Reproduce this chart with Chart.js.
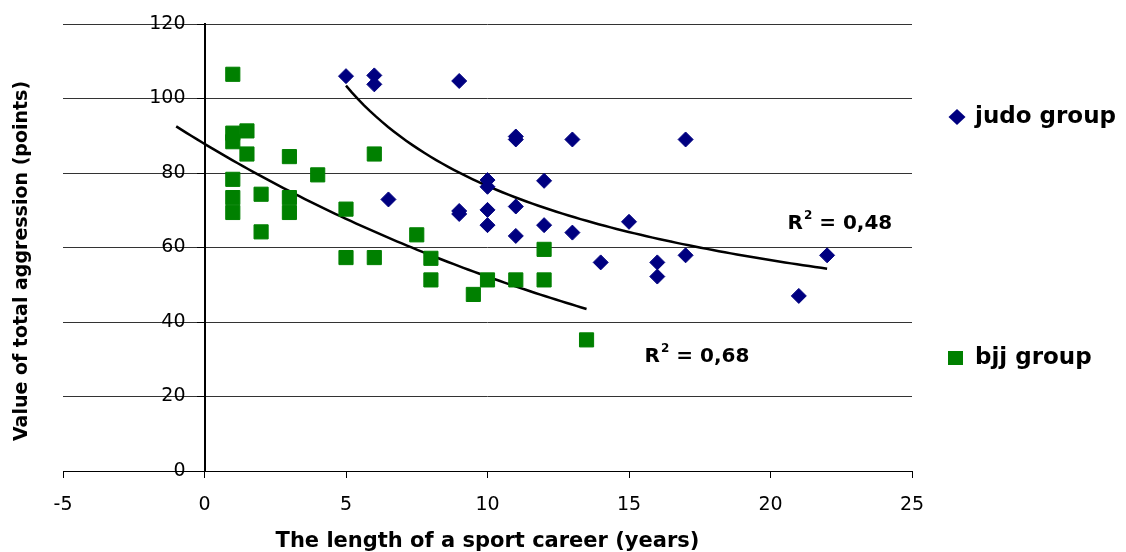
<!DOCTYPE html>
<html>
<head>
<meta charset="utf-8">
<script src="https://cdn.jsdelivr.net/npm/chart.js@4.4.1/dist/chart.umd.min.js"></script>
<style>
  html, body { margin: 0; padding: 0; background: #fff; }
</style>
</head>
<body>
<canvas id="chart" width="1126" height="552"></canvas>
<script>
// judo group: career length (years) and total aggression (points)
const judoYears = [5, 6, 6, 6.5, 9, 11, 11, 13, 10, 10, 12, 9, 9, 10, 11, 10, 12, 11, 13, 17, 15, 14, 16, 16, 17, 21, 22];
const judoScore = [106, 106.2, 103.8, 72.9, 104.7, 89.8, 89, 89, 78.1, 76.3, 77.9, 69.8, 69, 70.1, 71, 66, 66, 63.1, 64, 89, 66.9, 56, 56, 52.2, 57.9, 47, 57.9];

// bjj group
const bjjYears = [1, 1, 1, 1.5, 1.5, 3, 6, 4, 1, 2, 1, 3, 1, 3, 5, 2, 7.5, 5, 6, 8, 8, 12, 10, 11, 12, 9.5, 13.5];
const bjjScore = [106.5, 90.7, 88.4, 91.3, 85.1, 84.4, 85.1, 79.5, 78.3, 74.3, 73.4, 73.4, 69.4, 69.4, 70.3, 64.2, 63.4, 57.3, 57.3, 57.1, 51.3, 59.5, 51.3, 51.3, 51.3, 47.4, 35.2];

const xTicks = [-5, 0, 5, 10, 15, 20, 25];
const yTicks = [0, 20, 40, 60, 80, 100, 120];

// trendline labels (as printed) and where they sit, in data units
const judoR2 = "0,48";
const bjjR2 = "0,68";
const judoR2At = [20.6, 66.3];
const bjjR2At = [15.55, 30.6];

// bjj trendline is extended 2 years backwards, like in the original
const bjjBackward = 2;

const FONT = '"DejaVu Sans", "Liberation Sans", Arial, sans-serif';
const JUDO = "#000080";
const BJJ = "#008000";

const toPoints = (xs, ys) => xs.map((x, i) => ({ x, y: ys[i] }));

// least squares on logs, the way spreadsheet trendlines are fitted
function powerFit(xs, ys) {
    let sx = 0, sy = 0, sxx = 0, sxy = 0;
    const n = xs.length;
    for (let i = 0; i < n; i++) {
        const lx = Math.log(xs[i]), ly = Math.log(ys[i]);
        sx += lx; sy += ly; sxx += lx * lx; sxy += lx * ly;
    }
    const b = (n * sxy - sx * sy) / (n * sxx - sx * sx);
    const a = Math.exp((sy - b * sx) / n);
    return x => a * Math.pow(x, b);
}

function expFit(xs, ys) {
    let sx = 0, sy = 0, sxx = 0, sxy = 0;
    const n = xs.length;
    for (let i = 0; i < n; i++) {
        const ly = Math.log(ys[i]);
        sx += xs[i]; sy += ly; sxx += xs[i] * xs[i]; sxy += xs[i] * ly;
    }
    const b = (n * sxy - sx * sy) / (n * sxx - sx * sx);
    const a = Math.exp((sy - b * sx) / n);
    return x => a * Math.exp(b * x);
}

function curve(f, from, to) {
    const pts = [];
    const steps = 80;
    for (let i = 0; i <= steps; i++) {
        const x = from + (to - from) * i / steps;
        pts.push({ x, y: f(x) });
    }
    return pts;
}

const judoTrend = curve(powerFit(judoYears, judoScore), Math.min(...judoYears), Math.max(...judoYears));
const bjjTrend = curve(expFit(bjjYears, bjjScore), Math.min(...bjjYears) - bjjBackward, Math.max(...bjjYears));

function drawR2(ctx, text, px, py) {
    ctx.textBaseline = "middle";
    ctx.textAlign = "left";
    ctx.font = "bold 20px " + FONT;
    ctx.fillText("R", px, py);
    let w = ctx.measureText("R").width;
    ctx.font = "bold 12px " + FONT;
    ctx.fillText("2", px + w + 1, py - 8);
    w += ctx.measureText("2").width + 1;
    ctx.font = "bold 20px " + FONT;
    ctx.fillText(" = " + text, px + w, py);
}

// y labels next to the axis at x = 0, axis title on the far left,
// legend on the right and the R² notes
const extras = {
    id: "extras",
    afterDraw(chart) {
        const { ctx, chartArea, scales } = chart;
        const { x, y } = scales;
        ctx.save();
        ctx.fillStyle = "#000";

        const axisX = x.getPixelForValue(0);
        ctx.font = "19px " + FONT;
        ctx.textAlign = "right";
        ctx.textBaseline = "middle";
        y.ticks.forEach(t => ctx.fillText(String(t.value), axisX - 19, y.getPixelForValue(t.value)));

        ctx.save();
        ctx.translate(22, 261);
        ctx.rotate(-Math.PI / 2);
        ctx.font = "bold 19px " + FONT;
        ctx.textAlign = "center";
        ctx.fillText("Value of total aggression (points)", 0, 0);
        ctx.restore();

        drawR2(ctx, judoR2, x.getPixelForValue(judoR2At[0]), y.getPixelForValue(judoR2At[1]));
        drawR2(ctx, bjjR2, x.getPixelForValue(bjjR2At[0]), y.getPixelForValue(bjjR2At[1]));

        const lx = chartArea.right + 45;
        const tx = chartArea.right + 63;
        const judoY = 117, bjjY = 358;

        ctx.fillStyle = JUDO;
        ctx.beginPath();
        ctx.moveTo(lx - 8.5, judoY);
        ctx.lineTo(lx, judoY - 8);
        ctx.lineTo(lx + 8.5, judoY);
        ctx.lineTo(lx, judoY + 8);
        ctx.closePath();
        ctx.fill();

        ctx.fillStyle = BJJ;
        ctx.fillRect(lx - 9, bjjY - 7, 15, 14);

        ctx.fillStyle = "#000";
        ctx.font = "bold 23px " + FONT;
        ctx.textAlign = "left";
        ctx.textBaseline = "middle";
        ctx.fillText("judo group", tx, judoY);
        ctx.fillText("bjj group", tx, bjjY);
        ctx.restore();
    }
};

new Chart(document.getElementById("chart"), {
    type: "scatter",
    data: {
        datasets: [
            {
                label: "judo group",
                data: toPoints(judoYears, judoScore),
                pointStyle: "rectRot",
                pointRadius: 7.5,
                backgroundColor: JUDO,
                borderColor: JUDO,
                borderWidth: 1,
            },
            {
                label: "bjj group",
                data: toPoints(bjjYears, bjjScore),
                pointStyle: "rect",
                pointRadius: 10,
                backgroundColor: BJJ,
                borderColor: BJJ,
                borderWidth: 1,
            },
            {
                type: "line",
                data: judoTrend,
                borderColor: "#000",
                borderWidth: 2.5,
                pointRadius: 0,
                fill: false,
            },
            {
                type: "line",
                data: bjjTrend,
                borderColor: "#000",
                borderWidth: 2.5,
                pointRadius: 0,
                fill: false,
            },
        ],
    },
    options: {
        responsive: false,
        animation: false,
        layout: { padding: { left: 63, right: 214, top: 24, bottom: -2 } },
        plugins: { legend: { display: false }, tooltip: { enabled: false } },
        scales: {
            x: {
                type: "linear",
                min: -5,
                max: 25,
                afterBuildTicks: s => { s.ticks = xTicks.map(v => ({ value: v })); },
                ticks: { color: "#000", font: { family: FONT, size: 19 }, padding: 16 },
                grid: { drawOnChartArea: false, tickLength: 7, tickColor: "#000" },
                border: { color: "#000", width: 1 },
                title: {
                    display: true,
                    text: "The length of a sport career (years)",
                    color: "#000",
                    font: { family: FONT, size: 21, weight: "bold" },
                    padding: { top: -4, bottom: 0 },
                },
            },
            y: {
                type: "linear",
                min: 0,
                max: 120,
                position: { x: 0 },
                afterBuildTicks: s => { s.ticks = yTicks.map(v => ({ value: v })); },
                afterFit: s => { s.width = 0; },
                ticks: { display: false },
                grid: { color: "#333", lineWidth: 1, tickLength: 7, tickColor: "#000" },
                border: { color: "#000", width: 2 },
            },
        },
    },
    plugins: [extras],
});
</script>
</body>
</html>
